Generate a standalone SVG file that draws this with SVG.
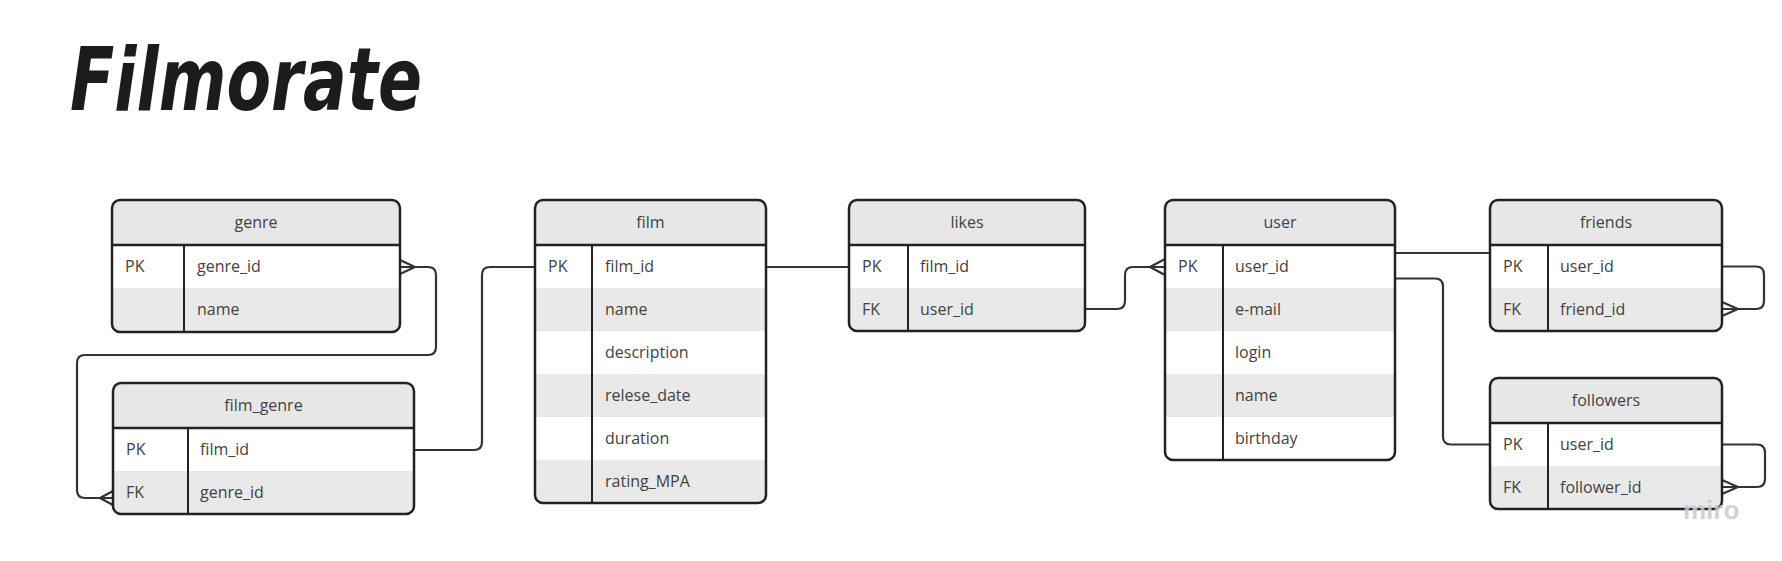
<svg xmlns="http://www.w3.org/2000/svg" width="1782" height="561" viewBox="0 0 1782 561">
<style>
.hdr{fill:#e7e7e7}
.alt{fill:#e9e9e9}
.box{fill:none;stroke:#222;stroke-width:2.5}
.sep{stroke:#222;stroke-width:2.5}
.col{stroke:#222;stroke-width:2}
.t{font-family:"Open Sans","Liberation Sans",sans-serif;font-size:16px;fill:#424242}
.h{text-anchor:middle}
.conn{fill:none;stroke:#333;stroke-width:2.2;stroke-linejoin:round}
</style>
<defs>
<clipPath id="c-genre"><rect x="112" y="200" width="288" height="132" rx="8"/></clipPath>
<clipPath id="c-fg"><rect x="113" y="383" width="301" height="131" rx="8"/></clipPath>
<clipPath id="c-film"><rect x="535" y="200" width="231" height="303" rx="8"/></clipPath>
<clipPath id="c-likes"><rect x="849" y="200" width="236" height="131" rx="8"/></clipPath>
<clipPath id="c-user"><rect x="1165" y="200" width="230" height="260" rx="8"/></clipPath>
<clipPath id="c-friends"><rect x="1490" y="200" width="232" height="131" rx="8"/></clipPath>
<clipPath id="c-followers"><rect x="1490" y="378" width="232" height="131" rx="8"/></clipPath>
</defs>
<rect width="1782" height="561" fill="#fff"/>
<text x="70" y="110" font-family="'DejaVu Sans','Liberation Sans',sans-serif" font-size="88" font-weight="bold" font-style="italic" fill="#1c1c1c" textLength="352" lengthAdjust="spacingAndGlyphs">Filmorate</text>

<g id="connectors">
<path class="conn" d="M415,267 H428 Q436,267 436,275 V347 Q436,355 428,355 H85 Q77,355 77,363 V490 Q77,498 85,498 H100"/>
<path class="conn" d="M400,260 L415,267 L400,274 M400,267 H415"/>
<path class="conn" d="M113,491 L100,498 L113,505 M113,498 H100"/>
<path class="conn" d="M414,450 H474 Q482,450 482,442 V275 Q482,267 490,267 H535"/>
<path class="conn" d="M766,267 H849"/>
<path class="conn" d="M1085,309 H1117 Q1125,309 1125,301 V275 Q1125,267 1133,267 H1150"/>
<path class="conn" d="M1165,259 L1150,267 L1165,275 M1150,267 H1165"/>
<path class="conn" d="M1395,253 H1490"/>
<path class="conn" d="M1395,278.5 H1435 Q1443,278.5 1443,286.5 V436.5 Q1443,444.5 1451,444.5 H1490"/>
<path class="conn" d="M1722,266.5 H1756 Q1764,266.5 1764,274.5 V301 Q1764,309 1756,309 H1738"/>
<path class="conn" d="M1722,302 L1738,309 L1722,316 M1722,309 H1738"/>
<path class="conn" d="M1722,444.5 H1757 Q1765,444.5 1765,452.5 V479 Q1765,487 1757,487 H1738"/>
<path class="conn" d="M1722,480 L1738,487 L1722,494 M1722,487 H1738"/>
</g>

<g id="genre">
<g clip-path="url(#c-genre)">
<rect x="112" y="200" width="288" height="132" fill="#fff"/>
<rect class="hdr" x="112" y="200" width="288" height="45"/>
<rect class="alt" x="112" y="288" width="288" height="44"/>
</g>
<line class="sep" x1="112" y1="245" x2="400" y2="245"/>
<line class="col" x1="184" y1="245" x2="184" y2="332"/>
<rect class="box" x="112" y="200" width="288" height="132" rx="8"/>
<text class="t h" x="256" y="228">genre</text>
<text class="t" x="125" y="272">PK</text>
<text class="t" x="197" y="272">genre_id</text>
<text class="t" x="197" y="315">name</text>
</g>

<g id="film_genre">
<g clip-path="url(#c-fg)">
<rect x="113" y="383" width="301" height="131" fill="#fff"/>
<rect class="hdr" x="113" y="383" width="301" height="45"/>
<rect class="alt" x="113" y="471" width="301" height="43"/>
</g>
<line class="sep" x1="113" y1="428" x2="414" y2="428"/>
<line class="col" x1="188" y1="428" x2="188" y2="514"/>
<rect class="box" x="113" y="383" width="301" height="131" rx="8"/>
<text class="t h" x="263.5" y="411">film_genre</text>
<text class="t" x="126" y="455">PK</text>
<text class="t" x="200" y="455">film_id</text>
<text class="t" x="126" y="498">FK</text>
<text class="t" x="200" y="498">genre_id</text>
</g>

<g id="film">
<g clip-path="url(#c-film)">
<rect x="535" y="200" width="231" height="303" fill="#fff"/>
<rect class="hdr" x="535" y="200" width="231" height="45"/>
<rect class="alt" x="535" y="288" width="231" height="43"/>
<rect class="alt" x="535" y="374" width="231" height="43"/>
<rect class="alt" x="535" y="460" width="231" height="43"/>
</g>
<line class="sep" x1="535" y1="245" x2="766" y2="245"/>
<line class="col" x1="592" y1="245" x2="592" y2="503"/>
<rect class="box" x="535" y="200" width="231" height="303" rx="8"/>
<text class="t h" x="650.5" y="228">film</text>
<text class="t" x="548" y="272">PK</text>
<text class="t" x="605" y="272">film_id</text>
<text class="t" x="605" y="315">name</text>
<text class="t" x="605" y="358">description</text>
<text class="t" x="605" y="401">relese_date</text>
<text class="t" x="605" y="444">duration</text>
<text class="t" x="605" y="487">rating_MPA</text>
</g>

<g id="likes">
<g clip-path="url(#c-likes)">
<rect x="849" y="200" width="236" height="131" fill="#fff"/>
<rect class="hdr" x="849" y="200" width="236" height="45"/>
<rect class="alt" x="849" y="288" width="236" height="43"/>
</g>
<line class="sep" x1="849" y1="245" x2="1085" y2="245"/>
<line class="col" x1="908" y1="245" x2="908" y2="331"/>
<rect class="box" x="849" y="200" width="236" height="131" rx="8"/>
<text class="t h" x="967" y="228">likes</text>
<text class="t" x="862" y="272">PK</text>
<text class="t" x="920" y="272">film_id</text>
<text class="t" x="862" y="315">FK</text>
<text class="t" x="920" y="315">user_id</text>
</g>

<g id="user">
<g clip-path="url(#c-user)">
<rect x="1165" y="200" width="230" height="260" fill="#fff"/>
<rect class="hdr" x="1165" y="200" width="230" height="45"/>
<rect class="alt" x="1165" y="288" width="230" height="43"/>
<rect class="alt" x="1165" y="374" width="230" height="43"/>
</g>
<line class="sep" x1="1165" y1="245" x2="1395" y2="245"/>
<line class="col" x1="1223" y1="245" x2="1223" y2="460"/>
<rect class="box" x="1165" y="200" width="230" height="260" rx="8"/>
<text class="t h" x="1280" y="228">user</text>
<text class="t" x="1178" y="272">PK</text>
<text class="t" x="1235" y="272">user_id</text>
<text class="t" x="1235" y="315">e-mail</text>
<text class="t" x="1235" y="358">login</text>
<text class="t" x="1235" y="401">name</text>
<text class="t" x="1235" y="444">birthday</text>
</g>

<g id="friends">
<g clip-path="url(#c-friends)">
<rect x="1490" y="200" width="232" height="131" fill="#fff"/>
<rect class="hdr" x="1490" y="200" width="232" height="45"/>
<rect class="alt" x="1490" y="288" width="232" height="43"/>
</g>
<line class="sep" x1="1490" y1="245" x2="1722" y2="245"/>
<line class="col" x1="1548" y1="245" x2="1548" y2="331"/>
<rect class="box" x="1490" y="200" width="232" height="131" rx="8"/>
<text class="t h" x="1606" y="228">friends</text>
<text class="t" x="1503" y="272">PK</text>
<text class="t" x="1560" y="272">user_id</text>
<text class="t" x="1503" y="315">FK</text>
<text class="t" x="1560" y="315">friend_id</text>
</g>

<g id="followers">
<g clip-path="url(#c-followers)">
<rect x="1490" y="378" width="232" height="131" fill="#fff"/>
<rect class="hdr" x="1490" y="378" width="232" height="45"/>
<rect class="alt" x="1490" y="466" width="232" height="43"/>
</g>
<line class="sep" x1="1490" y1="423" x2="1722" y2="423"/>
<line class="col" x1="1548" y1="423" x2="1548" y2="509"/>
<rect class="box" x="1490" y="378" width="232" height="131" rx="8"/>
<text class="t h" x="1606" y="406">followers</text>
<text class="t" x="1503" y="450">PK</text>
<text class="t" x="1560" y="450">user_id</text>
<text class="t" x="1503" y="493">FK</text>
<text class="t" x="1560" y="493">follower_id</text>
</g>

<text x="1683" y="519" font-family="'Liberation Sans',sans-serif" font-size="26" font-weight="bold" fill="#c9c9d8" opacity="0.85">miro</text>
</svg>
